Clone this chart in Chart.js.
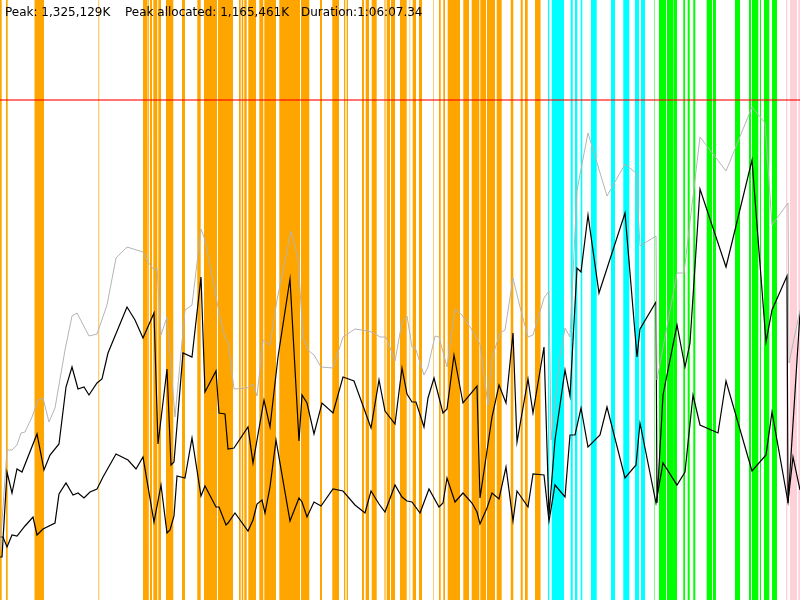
<!DOCTYPE html>
<html lang="en">
<head>
    <meta charset="UTF-8">
    <title>Memory usage</title>
    <script src="https://cdn.jsdelivr.net/npm/chart.js"></script>
    <style>
        body {
            margin: 0;
            padding: 0;
            background-color: white;
        }

        .wrap {
            position: relative;
            width: 800px;
            height: 600px;
        }

        .info span {
            position: absolute;
            top: 5px;
            font-family: 'DejaVu Sans', sans-serif;
            font-size: 12px;
            color: black;
            white-space: nowrap;
        }
    </style>
</head>
<body>
    <div class="wrap">
        <canvas id="chart" width="800" height="600"></canvas>
        <div class="info">
            <span style="left:5px">Peak: 1,325,129K</span>
            <span style="left:125px">Peak allocated: 1,165,461K</span>
            <span style="left:301px">Duration:1:06:07.34</span>
        </div>
    </div>

    <script>
        // time runs 0..800, memory level 0..600 (scaled units)
        var timeMax = 800;
        var memMax = 600;
        var limitLevel = 500;

        // event periods [start, end]
        var orangeSpans = [[0,1.7],[6,7.7],[34.5,44],[143,147],[147.7,148.8],[150,152],[153.3,157.3],[158.3,161],
            [166,173.3],[182,185],[197.3,200.7],[204,217],[218,233],[239,240.7],[241.7,243.3],[244.3,246.7],
            [248.3,256],[259.3,263.3],[264.3,276],[279.3,300],[301,309.3],[320,322],[332.3,339],[344,345.3],
            [346.7,348],[362,364],[365.7,369],[371.7,376.7],[386.7,390],[391,395],[400,406.7],[412.7,416],
            [419,422],[439,440.7],[443.3,445],[447.7,460],[463.3,469],[471.7,479.3],[480.3,486],[487,495],
            [496.7,501.7],[510.7,513.3],[520.7,522.7],[525,527.7],[535,540]];
        var paleOrangeSpans = [[34,34.5],[98,99.3],[384,386],[409.3,410.3],[433,434],[540,541]];
        var cyanSpans = [[548,549.3],[551.7,564],[570.7,572.7],[575,577.3],[580.7,582.3],[591,596.7],
            [611,615],[623.3,629.3],[635,639],[641,645]];
        var greenSpans = [[659,666],[667,673],[673.7,677],[683.3,685],[687.7,689.7],[693.3,695.3],
            [706.7,712],[713,716],[735,740],[749,751],[752,758.3],[760,761],[764,769.3],[772,777]];
        var paleGreenSpans = [[654,655]];
        var pinkSpans = [[786,787.3],[790,797],[798.3,800]];

        var peakTimes = [0,7,12,17,21,25,32,38,43,49,55,65,72,77,89,97,107,116,127,143,148,154,157,161,167,175,185,192,
            201,205,220,225,228,234,247,253,257,263,270,277,291,298,303,308,314,321,333,343,355,368,374,380,386,395,
            402,407,412,415,424,428,435,439,447,455,462,470,480,488,492,500,505,513,520,528,533,544,549,551,560,565,
            570,577,588,607,625,636,640,656,657,677,684,700,726,752,765,772,788,789,800];
        var peakMem = [50,150,150,155,167,168,183,200,202,178,192,250,284,287,264,266,295,342,353,348,338,330,332,265,283,183,290,295,
            371,360,283,262,258,211,212,216,204,260,255,300,369,342,263,250,245,233,232,263,271,269,267,263,263,239,
            278,284,253,253,225,233,264,263,233,291,285,273,256,195,242,267,270,322,293,263,265,302,309,160,243,272,
            263,410,467,404,436,427,354,364,220,327,327,463,429,493,477,375,397,237,290];

        var allocTimes = [0,2,7,12,17,22,37,44,50,59,66,72,78,84,89,97,102,108,127,135,143,154,158,167,171,174,183,192,
            201,205,216,219,225,228,234,248,253,264,270,278,290,299,302,307,314,322,333,343,354,371,379,385,395,
            402,407,412,416,424,428,434,443,447,454,463,477,480,492,499,506,513,517,528,533,544,549,555,560,565,570,
            577,581,588,599,625,637,640,656,657,663,677,685,690,700,726,752,766,772,787,788,800];
        var allocMem = [43,43,128,107,131,128,166,130,145,156,213,233,211,213,205,217,221,247,293,280,262,287,156,231,135,138,247,243,
            323,208,229,187,186,151,152,173,137,200,173,243,321,159,205,197,166,197,187,223,219,172,220,189,176,
            232,206,198,198,173,202,222,187,191,245,197,214,102,183,215,197,267,158,221,187,253,85,160,195,230,204,
            332,328,385,307,387,243,271,298,97,205,275,233,257,411,333,440,258,290,324,97,287];

        var liveTimes = [0,3,7,12,17,25,33,37,43,55,59,66,73,78,84,90,97,103,116,128,136,143,154,161,167,170,174,177,185,192,
            201,205,216,219,226,228,235,248,253,257,262,265,270,276,290,299,302,307,314,321,333,343,355,365,371,379,385,395,
            402,407,412,420,429,439,443,447,455,463,472,477,480,487,492,499,506,513,517,528,533,544,549,555,565,570,575,
            581,588,600,607,625,636,640,656,663,677,685,693,700,718,726,752,766,772,788,793,800];
        var liveMem = [63,63,53,65,64,74,83,65,71,77,106,117,105,107,102,108,111,123,146,140,131,143,78,115,67,70,84,124,122,162,
            104,114,93,93,75,77,87,69,80,96,100,87,113,160,79,102,98,83,98,94,111,109,95,87,109,96,88,115,
            103,99,98,87,111,93,97,122,98,107,97,88,76,92,107,101,133,79,109,93,126,125,79,115,103,165,165,
            192,153,165,193,122,135,177,97,137,115,128,205,175,167,219,129,145,188,98,143,110];

        function toPoints(xs, ys) {
            return xs.map(function (x, i) { return {x: x, y: ys[i]}; });
        }

        // each span becomes a full-height block filled down to the axis
        function spanPoints(spans) {
            var pts = [];
            spans.forEach(function (s) {
                pts.push({x: s[0], y: 0}, {x: s[0], y: memMax}, {x: s[1], y: memMax}, {x: s[1], y: 0});
            });
            return pts;
        }

        function spanSet(spans, color) {
            return {
                data: spanPoints(spans),
                backgroundColor: color,
                borderWidth: 0,
                fill: 'origin',
                pointRadius: 0,
                order: 10
            };
        }

        function lineSet(xs, ys, color, width) {
            return {
                data: toPoints(xs, ys),
                borderColor: color,
                borderWidth: width,
                fill: false,
                pointRadius: 0,
                tension: 0,
                order: 2
            };
        }

        var ctx = document.getElementById('chart').getContext('2d');
        var chart = new Chart(ctx, {
            type: 'line',
            data: {
                datasets: [
                    {
                        data: [{x: 0, y: limitLevel}, {x: timeMax, y: limitLevel}],
                        borderColor: 'rgba(255, 0, 0, 0.55)',
                        borderWidth: 2,
                        pointRadius: 0,
                        fill: false,
                        order: 0
                    },
                    lineSet(peakTimes, peakMem, '#b4b4b4', 1),
                    lineSet(allocTimes, allocMem, '#000000', 1.2),
                    lineSet(liveTimes, liveMem, '#000000', 1.2),
                    spanSet(orangeSpans, '#FFA500'),
                    spanSet(paleOrangeSpans, 'rgba(255, 165, 0, 0.55)'),
                    spanSet(cyanSpans, '#00FFFF'),
                    spanSet(greenSpans, '#00FF00'),
                    spanSet(paleGreenSpans, 'rgba(0, 255, 0, 0.5)'),
                    spanSet(pinkSpans, '#FFD0D8')
                ]
            },
            options: {
                responsive: false,
                animation: false,
                layout: { padding: 0 },
                plugins: {
                    legend: { display: false },
                    tooltip: { enabled: false }
                },
                scales: {
                    x: { type: 'linear', min: 0, max: timeMax, display: false },
                    y: { min: 0, max: memMax, display: false }
                }
            }
        });
    </script>
</body>
</html>
